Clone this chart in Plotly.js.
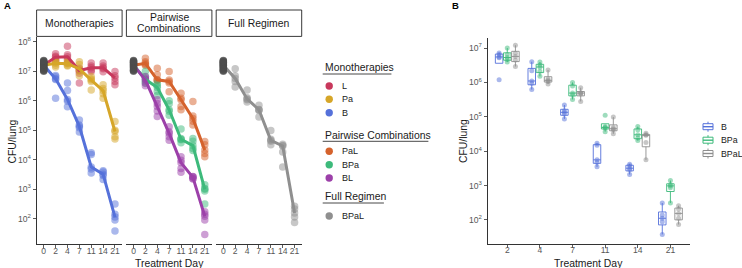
<!DOCTYPE html>
<html>
<head>
<meta charset="utf-8">
<script src="https://cdn.plot.ly/plotly-3.0.1.min.js"></script>
<style>
  html, body { margin: 0; padding: 0; background: #fff; }
  #chart { width: 742px; height: 268px; }
</style>
</head>
<body>
<div id="chart"></div>
<script>
// ---------------- data: CFU per lung, one row per treatment day ----------------
const baselineDay = '0';
const treatmentDays = ['2', '4', '7', '11', '14', '21'];

// untreated mice at day 0 (shared start point of every regimen)
const baselineCFU = [1.0e7, 1.05e7, 1.1e7, 1.2e7, 1.3e7, 1.4e7, 1.5e7, 1.6e7,
                     1.7e7, 1.8e7, 1.9e7, 2.0e7, 2.1e7, 2.2e7, 2.3e7];

// monotherapies
const cfuL = [
  [3.9e7, 3.2e7, 3.0e7, 2.5e7, 2.2e7],
  [7.0e7, 3.6e7, 3.1e7, 2.5e7, 1.9e7],
  [1.25e7, 1.1e7, 1.05e7, 8.5e6, 4.0e6],
  [1.9e7, 1.5e7, 1.3e7, 1.1e7, 9.8e6],
  [1.9e7, 1.5e7, 1.3e7, 1.2e7, 9.5e6],
  [9.8e6, 7.0e6, 5.9e6, 4.5e6, 3.5e6]
];
const cfuPa = [
  [2.3e7, 2.0e7, 1.85e7, 1.6e7, 1.4e7],
  [2.2e7, 1.9e7, 1.8e7, 1.6e7, 1.5e7],
  [2.1e7, 1.7e7, 1.2e7, 1.0e7, 7.0e6],
  [6.6e6, 5.5e6, 5.0e6, 4.5e6, 2.3e6],
  [3.5e6, 2.6e6, 2.2e6, 1.7e6, 1.2e6],
  [1.95e5, 1.0e5, 9.0e4, 6.0e4, 5.0e4]
];
const cfuB = [
  [7.2e6, 6.5e6, 5.5e6, 5.2e6, 1.2e6],
  [4.0e6, 2.2e6, 1.1e6, 9.5e5, 6.2e5],
  [2.2e5, 1.5e5, 1.35e5, 1.2e5, 8.7e4],
  [1.7e4, 1.5e4, 5.6e3, 4.8e3, 3.5e3],
  [4.2e3, 3.8e3, 3.2e3, 2.9e3, 2.1e3],
  [3.1e2, 1.4e2, 1.12e2, 8.9e1, 3.8e1]
];

// pairwise combinations
const cfuPaL = [
  [2.75e7, 2.1e7, 1.85e7, 1.7e7, 1.6e7],
  [1.25e7, 7.6e6, 5.1e6, 5.0e6, 4.8e6],
  [9.8e6, 5.0e6, 4.5e6, 4.0e6, 2.0e6],
  [1.8e6, 1.2e6, 1.07e6, 6.3e5, 4.9e5],
  [9.3e5, 3.0e5, 2.5e5, 2.0e5, 1.5e5],
  [4.1e4, 3.2e4, 2.1e4, 1.6e4, 1.26e4]
];
const cfuBPa = [
  [1.0e7, 6.5e6, 5.3e6, 4.6e6, 3.9e6],
  [3.9e6, 3.2e6, 2.8e6, 2.1e6, 1.5e6],
  [1.0e6, 7.8e5, 4.9e5, 4.4e5, 3.2e5],
  [1.1e5, 5.2e4, 4.9e4, 4.7e4, 3.7e4],
  [5.2e4, 4.2e4, 3.0e4, 2.4e4, 2.05e4],
  [1.4e3, 1.05e3, 9.8e2, 8.7e2, 3.1e2]
];
const cfuBL = [
  [6.6e6, 5.6e6, 5.0e6, 4.0e6, 3.2e6],
  [1.07e6, 8.0e5, 6.3e5, 4.5e5, 2.9e5],
  [1.3e5, 8.9e4, 7.8e4, 6.0e4, 4.5e4],
  [1.26e4, 9.5e3, 7.9e3, 5.0e3, 3.7e3],
  [2.7e3, 2.6e3, 2.5e3, 2.3e3, 2.2e3],
  [1.7e2, 1.4e2, 1.2e2, 9.0e1, 2.9e1]
];

// full regimen
const cfuBPaL = [
  [1.2e7, 7.0e6, 5.7e6, 4.5e6, 2.9e6],
  [2.3e6, 1.26e6, 1.15e6, 1.07e6, 9.0e5],
  [7.0e5, 5.0e5, 4.9e5, 4.6e5, 2.8e5],
  [9.8e4, 4.9e4, 4.5e4, 4.2e4, 3.2e4],
  [3.3e4, 3.0e4, 2.9e4, 1.8e4, 5.6e3],
  [2.6e2, 2.1e2, 1.55e2, 1.12e2, 7.4e1]
];

const facetTitles = ['Monotherapies', 'Pairwise Combinations', 'Full Regimen'];
const facetSeries = [['L', 'Pa', 'B'], ['PaL', 'BPa', 'BL'], ['BPaL']];
const boxSeries = ['B', 'BPa', 'BPaL'];
const seriesCFU = { L: cfuL, Pa: cfuPa, B: cfuB, PaL: cfuPaL, BPa: cfuBPa, BL: cfuBL, BPaL: cfuBPaL };

const tickPowersA = [2, 3, 4, 5, 6, 7, 8];
const tickPowersB = [2, 3, 4, 5, 6, 7];

// ---------------- styling ----------------
const W = 742, H = 268;
const PX = v => v / W;          // pixel column -> paper x
const PY = v => 1 - v / H;      // pixel row -> paper y
const FONT = 'Liberation Sans, Arial, Helvetica, sans-serif';
const INK = '#1a1a1a';
const TICK_TEXT = '#575757';
const AXIS_LINE = '#333333';

const COLORS = {
  L: '#C8385C', Pa: '#D6A628', B: '#5571DA',
  PaL: '#D5622C', BPa: '#3DBA7B', BL: '#9C40A9',
  BPaL: '#8F8F8F'
};
const BASE_COLOR = 'rgba(77,77,77,0.7)';

function rgba(hex, a) {
  const n = parseInt(hex.slice(1), 16);
  return `rgba(${(n >> 16) & 255},${(n >> 8) & 255},${n & 255},${a})`;
}
function median(a) {
  const s = [...a].sort((p, q) => p - q);
  const n = s.length;
  return n % 2 ? s[(n - 1) / 2] : Math.sqrt(s[n / 2 - 1] * s[n / 2]);
}
function flatDays(rows) {
  const x = [], y = [];
  rows.forEach((vals, i) => vals.forEach(v => { x.push(treatmentDays[i]); y.push(v); }));
  return { x, y };
}

// panel geometry (pixels)
const facetCols = [[36.6, 122.1], [126.4, 211.9], [216.2, 301.7]];
const facetTop = 37, facetBottom = 244.3;
const stripTop = 10, stripBottom = 36.4;
const boxCol = [487.7, 690], boxTop = 37.7, boxBottom = 243.7;

// ---------------- traces ----------------
const traces = [];
const xIds = ['x', 'x2', 'x3'];

facetSeries.forEach((names, p) => {
  // individual mice
  names.forEach(nm => {
    const d = flatDays(seriesCFU[nm]);
    traces.push({
      type: 'scatter', mode: 'markers', xaxis: xIds[p], yaxis: 'y',
      x: d.x, y: d.y, hoverinfo: 'skip', showlegend: false,
      marker: { size: 7.5, color: rgba(COLORS[nm], 0.5), line: { width: 0 } }
    });
  });
  // median trajectory starting from the day-0 baseline
  names.forEach(nm => {
    traces.push({
      type: 'scatter', mode: 'lines', xaxis: xIds[p], yaxis: 'y',
      x: [baselineDay, ...treatmentDays],
      y: [median(baselineCFU), ...seriesCFU[nm].map(median)],
      hoverinfo: 'skip', showlegend: false,
      line: { color: COLORS[nm], width: 3 }
    });
  });
  // baseline mice
  traces.push({
    type: 'scatter', mode: 'markers', xaxis: xIds[p], yaxis: 'y',
    x: baselineCFU.map(() => baselineDay), y: baselineCFU,
    hoverinfo: 'skip', showlegend: false,
    marker: { size: 7.5, color: BASE_COLOR, line: { width: 0 } }
  });
});

// box plots on log10 values (statistics computed on the log scale)
boxSeries.forEach(nm => {
  const d = flatDays(seriesCFU[nm]);
  traces.push({
    type: 'box', name: nm, xaxis: 'x4', yaxis: 'y4',
    x: d.x, y: d.y.map(v => Math.log10(v)),
    boxpoints: 'all', jitter: 0, pointpos: 0, whiskerwidth: 0,
    quartilemethod: 'linear',
    marker: { size: 5, color: rgba(COLORS[nm], 0.5), line: { width: 0 } },
    line: { color: rgba(COLORS[nm], 0.9), width: 1 },
    fillcolor: 'rgba(255,255,255,0)',
    hoverinfo: 'skip', showlegend: false
  });
});

// ---------------- axes ----------------
const tickText = p => `10<sup>${p}</sup>`;
const tickStyle = {
  showline: true, linecolor: AXIS_LINE, linewidth: 1,
  ticks: 'outside', ticklen: 3, tickwidth: 0.8, tickcolor: AXIS_LINE,
  showgrid: false, zeroline: false, automargin: false,
  tickfont: { family: FONT, size: 8.6, color: TICK_TEXT }
};

function facetXAxis(i) {
  return Object.assign({
    domain: [PX(facetCols[i][0]), PX(facetCols[i][1])], anchor: 'y',
    type: 'category', categoryorder: 'array', categoryarray: [baselineDay, ...treatmentDays],
    range: [-0.6, 6.6], tickangle: 0, ticklabelstandoff: -5
  }, tickStyle);
}

const layout = {
  width: W, height: H,
  margin: { l: 0, r: 0, t: 0, b: 0, pad: 0 },
  paper_bgcolor: '#ffffff', plot_bgcolor: 'rgba(0,0,0,0)',
  showlegend: false,
  font: { family: FONT, size: 9, color: INK },
  boxmode: 'group', boxgap: 0.25, boxgroupgap: 0.08,
  xaxis: facetXAxis(0), xaxis2: facetXAxis(1), xaxis3: facetXAxis(2),
  yaxis: Object.assign({
    domain: [PY(facetBottom), PY(facetTop)], anchor: 'x',
    type: 'log', range: [1.127, 8.16],
    tickmode: 'array', tickvals: tickPowersA.map(p => Math.pow(10, p)), ticktext: tickPowersA.map(tickText)
  }, tickStyle),
  xaxis4: Object.assign({
    domain: [PX(boxCol[0]), PX(boxCol[1])], anchor: 'y4',
    type: 'category', categoryorder: 'array', categoryarray: treatmentDays,
    range: [-0.6, 5.6], tickangle: 0, ticklabelstandoff: -5
  }, tickStyle),
  yaxis4: Object.assign({
    domain: [PY(boxBottom), PY(boxTop)], anchor: 'x4',
    type: 'linear', range: [1.31, 7.30],
    tickmode: 'array', tickvals: tickPowersB, ticktext: tickPowersB.map(tickText)
  }, tickStyle),
  shapes: [],
  annotations: []
};

const shapes = layout.shapes, ann = layout.annotations;

function text(str, x, y, opts = {}) {
  ann.push(Object.assign({
    text: str, xref: 'paper', yref: 'paper', x: PX(x), y: PY(y),
    xanchor: 'center', yanchor: 'middle', showarrow: false,
    font: { family: FONT, size: 10.4, color: INK }
  }, opts));
}

// panel tags
text('<b>A</b>', 2, 6, { xanchor: 'left', font: { family: FONT, size: 9.5, color: '#000' } });
text('<b>B</b>', 450, 6, { xanchor: 'left', font: { family: FONT, size: 9.5, color: '#000' } });

// facet strips
facetCols.forEach((c, i) => {
  shapes.push({
    type: 'rect', xref: 'paper', yref: 'paper',
    x0: PX(c[0]), x1: PX(c[1]), y0: PY(stripBottom), y1: PY(stripTop),
    line: { color: '#222', width: 0.9 }, fillcolor: '#ffffff'
  });
  const cx = (c[0] + c[1]) / 2;
  const words = facetTitles[i] === 'Pairwise Combinations' ? ['Pairwise', 'Combinations'] : [facetTitles[i]];
  if (words.length === 1) text(words[0], cx, 23.2);
  else { text(words[0], cx, 17); text(words[1], cx, 28.6); }
});

// axis titles
text('CFU/lung', 12, 141.5, { textangle: -90 });
text('Treatment Day', (facetCols[0][0] + facetCols[2][1]) / 2, 263);
text('CFU/lung', 463, 141, { textangle: -90 });
text('Treatment Day', (boxCol[0] + boxCol[1]) / 2, 263);

// legend for the trajectories
const measure = document.createElement('canvas').getContext('2d');
function textWidth(str, size) { measure.font = `${size}px "Liberation Sans"`; return measure.measureText(str).width; }

const legendX = 322.7, dotX = 329.2, labelX = 339.5;
const legendRows = [
  { title: 'Monotherapies', y: 67.7, items: [['L', 86], ['Pa', 99.3], ['B', 112.7]] },
  { title: 'Pairwise Combinations', y: 135, items: [['PaL', 151.3], ['BPa', 164.7], ['BL', 178]] },
  { title: 'Full Regimen', y: 196.7, items: [['BPaL', 216]] }
];
legendRows.forEach(g => {
  text(g.title, legendX, g.y, { xanchor: 'left' });
  const w = textWidth(g.title, 10.4);
  shapes.push({
    type: 'line', xref: 'paper', yref: 'paper',
    x0: PX(legendX), x1: PX(legendX + w), y0: PY(g.y + 6.3), y1: PY(g.y + 6.3),
    line: { color: INK, width: 0.8 }
  });
  g.items.forEach(([nm, y]) => {
    shapes.push({
      type: 'circle', xref: 'paper', yref: 'paper',
      xsizemode: 'pixel', ysizemode: 'pixel', xanchor: PX(dotX), yanchor: PY(y),
      x0: -3.7, x1: 3.7, y0: -3.7, y1: 3.7,
      fillcolor: COLORS[nm], line: { width: 0 }
    });
    text(nm, labelX, y, { xanchor: 'left', font: { family: FONT, size: 9, color: INK } });
  });
});

// legend for the box plots
const boxLegendY = [126.7, 140.2, 153.5];
boxSeries.forEach((nm, i) => {
  const y = boxLegendY[i], c = COLORS[nm];
  const anchor = { xref: 'paper', yref: 'paper', xsizemode: 'pixel', ysizemode: 'pixel', xanchor: PX(708), yanchor: PY(y) };
  shapes.push(Object.assign({ type: 'rect', x0: -5, x1: 5, y0: -3, y1: 3, line: { color: c, width: 1 }, fillcolor: 'rgba(255,255,255,0)' }, anchor));
  shapes.push(Object.assign({ type: 'line', x0: -5, x1: 5, y0: 0, y1: 0, line: { color: c, width: 1.4 } }, anchor));
  shapes.push(Object.assign({ type: 'line', x0: 0, x1: 0, y0: 3, y1: 5, line: { color: c, width: 1 } }, anchor));
  shapes.push(Object.assign({ type: 'line', x0: 0, x1: 0, y0: -3, y1: -5, line: { color: c, width: 1 } }, anchor));
  text(nm, 718.5, y, { xanchor: 'left', font: { family: FONT, size: 8.8, color: INK } });
});

Plotly.newPlot('chart', traces, layout, { staticPlot: true, displayModeBar: false });
</script>
</body>
</html>
